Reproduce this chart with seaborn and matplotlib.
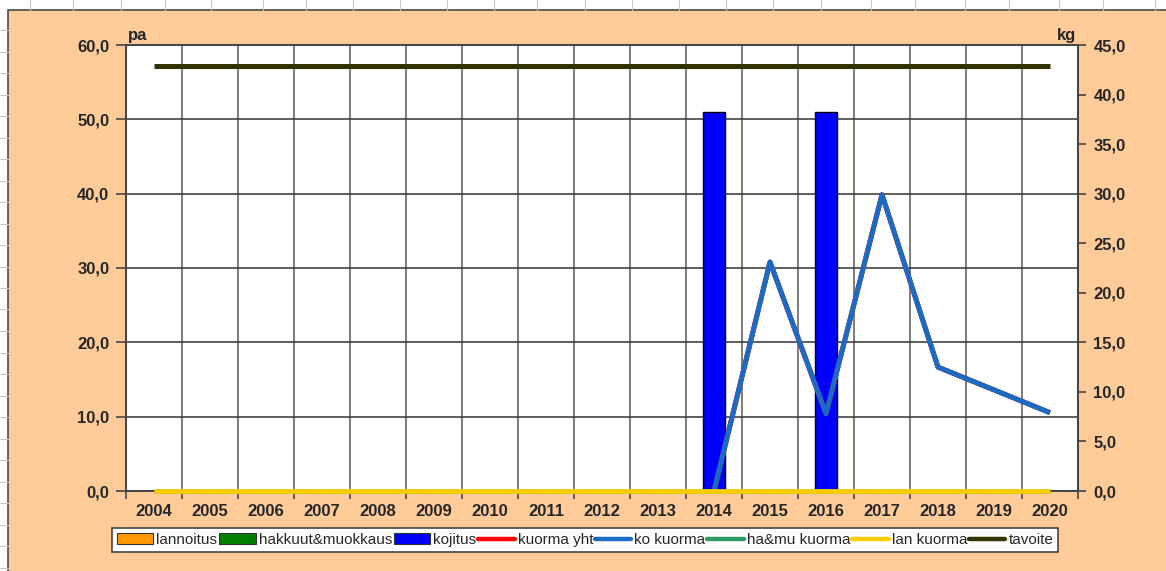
import numpy as np
import pandas as pd
import matplotlib
matplotlib.use("Agg")
import matplotlib.pyplot as plt
import seaborn as sns
from matplotlib.patches import Patch, Rectangle
from matplotlib.lines import Line2D
from matplotlib.ticker import FixedLocator, FuncFormatter
from matplotlib.font_manager import FontProperties

# ---------------- data ----------------
years = [str(y) for y in range(2004, 2021)]
lannoitus = [0] * 17
hakkuut_muokkaus = [0] * 17
kojitus = [0, 0, 0, 0, 0, 0, 0, 0, 0, 0, 51, 0, 51, 0, 0, 0, 0]          # pa
kuorma_yht = [np.nan] * 10 + [0, 23.1, 7.8, 29.9, 12.5, 10.2, 7.9]    # kg
ko_kuorma = [np.nan] * 10 + [0, 23.1, 7.8, 29.9, 12.5, 10.2, 7.9]     # kg
hamu_kuorma = [0] * 17
lan_kuorma = [0] * 17
tavoite = [42.9] * 17

left_ticks = [0, 10, 20, 30, 40, 50, 60]
right_ticks = [0, 5, 10, 15, 20, 25, 30, 35, 40, 45]

# ---------------- style ----------------
sns.set_theme(style="white")
FONT = ["Liberation Sans Narrow", "Liberation Sans", "DejaVu Sans"]
plt.rcParams["font.family"] = FONT

PEACH = "#FFCC99"
W, H = 1166, 571
fig = plt.figure(figsize=(W / 100, H / 100), dpi=100, facecolor="white")

# spreadsheet background (cells outside the chart object)
for xp in [30, 73, 121, 165, 211, 263, 306, 353, 400, 447, 494, 537, 585, 632, 679, 726,
           773, 821, 871, 915, 965, 1009, 1059, 1103, 1155]:
    fig.add_artist(Line2D([xp / W, xp / W], [1, 1 - 10 / H], transform=fig.transFigure,
                          color="#c8c8c8", lw=0.8))
for yp in np.arange(30, 571, 21.5):
    fig.add_artist(Line2D([0, 8 / W], [1 - yp / H, 1 - yp / H], transform=fig.transFigure,
                          color="#c8c8c8", lw=0.8))
fig.add_artist(Rectangle((8 / W, -0.01), 1.0, 1 - 10 / H + 0.01, transform=fig.transFigure,
                         facecolor=PEACH, edgecolor="#4a4a4a", lw=1.2, zorder=0))

ax = fig.add_axes([126 / W, 1 - 491 / H, 952 / W, 446 / H])
ax.set_facecolor("white")
ax2 = ax.twinx()

pos = np.arange(len(years))
df = pd.DataFrame({"pos": pos, "year": years, "lannoitus": lannoitus,
                   "hakkuut": hakkuut_muokkaus, "kojitus": kojitus,
                   "kuorma_yht": kuorma_yht, "ko_kuorma": ko_kuorma,
                   "hamu_kuorma": hamu_kuorma, "lan_kuorma": lan_kuorma,
                   "tavoite": tavoite})

# bars (left axis, pa)
sns.barplot(data=df, x="pos", y="kojitus", native_scale=True, width=0.4,
            color="#0000FF", edgecolor="black", linewidth=1.0, saturation=1,
            ax=ax, zorder=3)

# lines (right axis, kg)
C_KO = "#1A6BC6"
line_specs = [("kuorma_yht", "#FF0000", 3.6),
              ("hamu_kuorma", "#339966", 3.4),
              ("ko_kuorma", C_KO, 3.6),
              ("lan_kuorma", "#FFCC00", 3.4),
              ("tavoite", "#333300", 3.6)]
for col, c, lw in line_specs:
    sub = df.dropna(subset=[col])
    sns.lineplot(data=sub, x="pos", y=col, color=c, lw=lw, ax=ax2,
                 estimator=None, sort=False, solid_capstyle="butt")
for ln in ax2.lines:
    ln.set_clip_on(False)
    ln.set_zorder(5)

# axes limits
ax.set_xlim(-0.5, len(years) - 0.5)
ax2.set_xlim(-0.5, len(years) - 0.5)
ax.set_ylim(0, 60)
ax2.set_ylim(0, 45)

fmt = FuncFormatter(lambda v, p: f"{v:.1f}".replace(".", ","))
fp = FontProperties(family=FONT, weight="bold", size=12)

# x axis: labels at centres, ticks/grid at boundaries
ax.xaxis.set_major_locator(FixedLocator(pos))
ax.set_xticklabels(years, fontproperties=fp)
ax.xaxis.set_minor_locator(FixedLocator(np.arange(-0.5, len(years), 1.0)))
ax.tick_params(axis="x", which="major", length=0, pad=9, bottom=True)
ax.tick_params(axis="x", which="minor", length=6, width=1.2, color="#444", direction="out", bottom=True)
ax.set_xlabel("")

ax.yaxis.set_major_locator(FixedLocator(left_ticks))
ax.yaxis.set_major_formatter(fmt)
ax.tick_params(axis="y", which="major", length=7, width=1.2, color="#444", direction="out",
               left=True, pad=5)
for lab in ax.get_yticklabels():
    lab.set_fontproperties(fp)
ax.set_ylabel("")

ax2.yaxis.set_major_locator(FixedLocator(right_ticks))
ax2.yaxis.set_major_formatter(fmt)
ax2.tick_params(axis="y", which="major", length=6, width=1.2, color="#444", direction="out",
                right=True, pad=5)
for lab in ax2.get_yticklabels():
    lab.set_fontproperties(fp)
ax2.set_ylabel("")
ax2.grid(False)

ax.grid(False)
ax.grid(True, axis="x", which="minor", color="#666666", lw=1.2)
ax.grid(True, axis="y", which="major", color="#333333", lw=1.1)
ax.set_axisbelow(True)

for a in (ax, ax2):
    for s in a.spines.values():
        s.set_color("#444444")
        s.set_linewidth(1.3)
        s.set_visible(True)

# axis unit labels
ax.text(0.002, 1.005, "pa", transform=ax.transAxes, ha="left", va="bottom", fontproperties=fp)
ax.text(0.998, 1.005, "kg", transform=ax.transAxes, ha="right", va="bottom", fontproperties=fp)

# legend
handles = [Patch(facecolor="#FF9900", edgecolor="#333333", lw=0.8, label="lannoitus"),
           Patch(facecolor="#008000", edgecolor="#333333", lw=0.8, label="hakkuut&muokkaus"),
           Patch(facecolor="#0000FF", edgecolor="#333333", lw=0.8, label="kojitus"),
           Line2D([], [], color="#FF0000", lw=3.2, label="kuorma yht"),
           Line2D([], [], color=C_KO, lw=3.2, label="ko kuorma"),
           Line2D([], [], color="#339966", lw=3.2, label="ha&mu kuorma"),
           Line2D([], [], color="#FFCC00", lw=3.2, label="lan kuorma"),
           Line2D([], [], color="#333300", lw=3.2, label="tavoite")]
leg = fig.legend(handles=handles, loc="center", bbox_to_anchor=(585 / W, 1 - 540 / H),
                 ncol=8, frameon=True, fancybox=False, framealpha=1, edgecolor="#444444",
                 prop=dict(family=FONT, size=11), borderpad=0.3, handlelength=2.4,
                 handleheight=0.7, handletextpad=0.2, columnspacing=0.1, borderaxespad=0)
leg.get_frame().set_linewidth(1.2)

fig.savefig("out.png", dpi=100, facecolor="white")
